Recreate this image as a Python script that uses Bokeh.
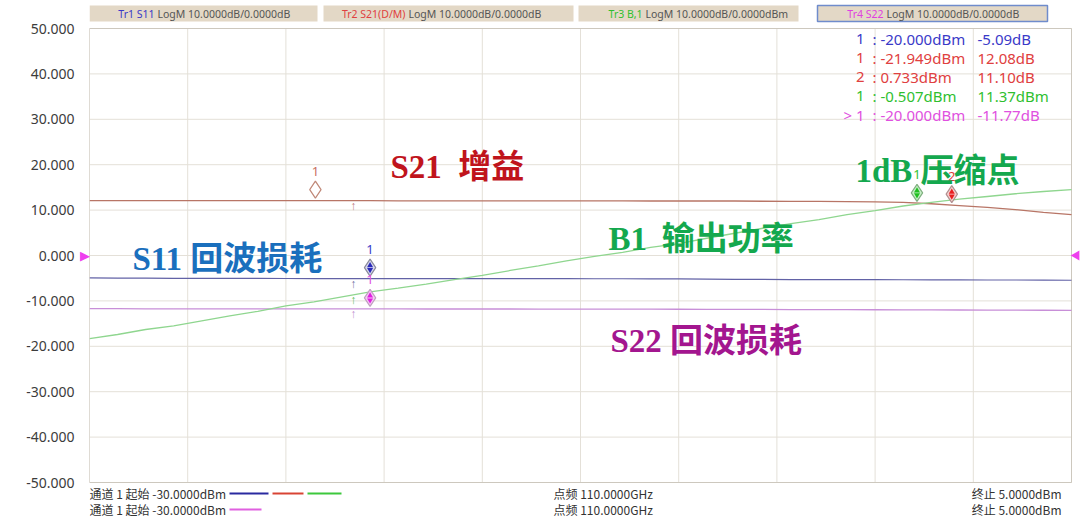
from bokeh.plotting import figure
from bokeh.models import Label, FixedTicker, PrintfTickFormatter, LinearAxis
from bokeh.embed import file_html
from bokeh.resources import INLINE

# ---------------- data ----------------
power_in = [-30, -29, -28, -27, -26, -25, -24, -23, -22, -21, -20, -19, -18, -17, -16, -15, -14, -13,
            -12, -11, -10, -9, -8, -7, -6, -5, -4, -3, -2, -1, 0, 1, 2, 3, 4, 5]
s11 = [-4.95, -4.98, -5.0, -5.02, -5.05, -5.05, -5.06, -5.07, -5.08, -5.08, -5.09, -5.09, -5.1, -5.1,
       -5.1, -5.1, -5.1, -5.1, -5.12, -5.12, -5.14, -5.15, -5.2, -5.25, -5.28, -5.3, -5.3, -5.32,
       -5.33, -5.34, -5.36, -5.38, -5.4, -5.4, -5.42, -5.45]
s21 = [12.1, 12.1, 12.1, 12.1, 12.1, 12.1, 12.1, 12.1, 12.08, 12.08, 12.08, 12.05, 12.05, 12.05,
       12.05, 12.05, 12.05, 12.05, 12.05, 12.05, 12.0, 12.0, 12.0, 12.0, 11.95, 11.9, 11.9, 11.85,
       11.8, 11.7, 11.4, 11.0, 10.6, 10.1, 9.5, 9.0]
b1 = [-18.3, -17.4, -16.3, -15.5, -14.4, -13.3, -12.3, -11.1, -10.2, -9.1, -8.0, -7.2, -6.3, -5.3,
      -4.4, -3.3, -2.3, -1.2, -0.2, 0.7, 1.8, 2.6, 3.8, 4.9, 6.0, 7.0, 7.9, 9.0, 9.9, 10.9, 11.7,
      12.4, 13.0, 13.6, 14.1, 14.5]
s22 = [-11.7, -11.72, -11.74, -11.75, -11.75, -11.76, -11.76, -11.77, -11.77, -11.77, -11.77,
       -11.77, -11.78, -11.78, -11.78, -11.78, -11.8, -11.8, -11.8, -11.82, -11.82, -11.84, -11.85,
       -11.86, -11.88, -11.9, -11.92, -11.94, -11.95, -11.96, -11.98, -12.0, -12.02, -12.04,
       -12.06, -12.1]

y_ticks = [-50, -40, -30, -20, -10, 0, 10, 20, 30, 40, 50]
x_grid = [-30, -26.5, -23, -19.5, -16, -12.5, -9, -5.5, -2, 1.5, 5]
ref_level = 0

marker_ids = ["1", "1", "2", "1", "1"]
marker_x = [-20.0, -21.949, 0.733, -0.507, -20.0]
marker_val = [-5.09, 12.08, 11.10, 11.37, -11.77]
marker_unit = ["dB", "dB", "dB", "dBm", "dB"]
marker_prefix = ["", "", "", "", "> "]
stim_x = -20.6

tabs = [("Tr1 S11", "LogM 10.0000dB/0.0000dB"),
        ("Tr2 S21(D/M)", "LogM 10.0000dB/0.0000dB"),
        ("Tr3 B,1", "LogM 10.0000dB/0.0000dBm"),
        ("Tr4 S22", "LogM 10.0000dB/0.0000dB")]
footer_left = "通道 1 起始 -30.0000dBm"
footer_mid = "点频 110.0000GHz"
footer_right = "终止 5.0000dBm"

# ---------------- styles / geometry ----------------
C_S11, C_S21, C_B1, C_S22 = "#6262a6", "#b87566", "#8fd68f", "#c88fd8"
C_T = ["#3a3ac8", "#e04040", "#e04040", "#2fbf2f", "#e050e0"]
TAB_COL = ["#3a3ac8", "#e04040", "#2fbf2f", "#e040e0"]

X0, X1, Y0, Y1 = -30, 5, -50, 50
FL, FR, FT, FB = 89, 1071, 28, 482   # data area in picture pixels
W, H = 1080, 521


def wx(px):
    return X0 + (px - FL) * (X1 - X0) / (FR - FL)


def wy(py):
    return Y1 - (py - FT) * (Y1 - Y0) / (FB - FT)


DY = (Y1 - Y0) / (FB - FT)

p = figure(width=W, height=H, x_range=(X0, wx(W)), y_range=(wy(H), wy(0)),
           output_backend="svg", toolbar_location=None,
           min_border_left=FL, min_border_right=0, min_border_top=0, min_border_bottom=0)
p.xaxis.visible = False
p.xgrid.visible = False
p.ygrid.visible = False
main_ax = p.yaxis[0]
main_ax.ticker = FixedTicker(ticks=y_ticks)
main_ax.bounds = (Y0, Y1)
main_ax.formatter = PrintfTickFormatter(format="%.3f")
main_ax.axis_line_color = None
main_ax.major_tick_line_color = None
main_ax.minor_tick_line_color = None
main_ax.major_label_standoff = -4
main_ax.major_label_text_font = "Noto Sans"
main_ax.major_label_text_font_size = "14px"
main_ax.major_label_text_color = "#3c3c3c"

# reference-level pointer on the left, as a one-tick axis next to the frame
tri_ax = LinearAxis(ticker=FixedTicker(ticks=[ref_level]), major_label_overrides={ref_level: "▶"},
                    axis_line_color=None, major_tick_line_color=None, minor_tick_line_color=None,
                    major_label_standoff=-6, major_label_text_color="#ee40ee",
                    major_label_text_font_size="13px")
p.left = [tri_ax, main_ax]

p.outline_line_color = None
p.background_fill_color = "white"
p.border_fill_color = "white"

# grid + frame of the data area
p.segment(x0=x_grid, x1=x_grid, y0=[Y0] * len(x_grid), y1=[Y1] * len(x_grid),
          line_color="#e4e0d8", line_width=1)
p.segment(x0=[X0] * len(y_ticks), x1=[X1] * len(y_ticks), y0=y_ticks, y1=y_ticks,
          line_color="#e4e0d8", line_width=1)
p.quad(left=[X0], right=[X1], bottom=[Y0], top=[Y1], fill_color=None,
       line_color="#cdc8be", line_width=1)

# traces
p.line(power_in, s21, line_color=C_S21, line_width=1.3)
p.line(power_in, s11, line_color=C_S11, line_width=1.2)
p.line(power_in, s22, line_color=C_S22, line_width=1.3)
p.line(power_in, b1, line_color=C_B1, line_width=1.3)


def interp(xv, xs, ys):
    for i in range(len(xs) - 1):
        if xs[i] <= xv <= xs[i + 1]:
            t = (xv - xs[i]) / (xs[i + 1] - xs[i])
            return ys[i] + t * (ys[i + 1] - ys[i])
    return ys[-1]


# stimulus arrows
for ys, col in [(s21, "#c07c7c"), (s11, "#7070a0"), (b1, "#5cc05c"), (s22, "#c090d0")]:
    p.add_layout(Label(x=stim_x, y=interp(stim_x, power_in, ys) - 5 * DY, text="↑",
                       text_align="center", text_baseline="middle", text_font_size="12px",
                       text_color=col))

# markers
off = 11 * DY
mk_fill = ["#d8d8f0", "white", "#f6d0d0", "#c8f0c8", "#f6c8f6"]
mk_dark = ["#2a2ab8", None, "#e82020", "#20c020", "#e020e0"]
mk_line = ["#8a8a9a", "#c08878", "#b09090", "#80b080", "#c0a0c0"]
order = [4, 0, 1, 3, 2]
for i in order:
    mx, my = marker_x[i], marker_val[i] + off
    p.scatter([mx], [my], marker="diamond", size=17, fill_color=mk_fill[i],
              line_color=mk_line[i], line_width=1.2)
    if mk_dark[i]:
        p.scatter([mx], [my + 2.2 * DY], marker="triangle", size=6, fill_color=mk_dark[i],
                  line_color=None)
        p.scatter([mx], [my - 2.2 * DY], marker="inverted_triangle", size=6,
                  fill_color=mk_dark[i], line_color=None)
    lab_col = "#c87060" if mk_dark[i] is None else C_T[i]
    p.add_layout(Label(x=mx, y=my + 18 * DY, text=marker_ids[i], text_align="center",
                       text_baseline="middle", text_font="Noto Sans", text_font_size="13px",
                       text_color=lab_col))

# big annotations
NB = "\u00a0"
ANN_FONT = "'Liberation Serif', 'Noto Sans CJK SC'"
for txt, px, py, col in [("S21" + NB + NB + "增益", 390, 166, "#c0141c"),
                         ("S11" + NB + "回波损耗", 132, 258, "#1a6fbd"),
                         ("B1" + NB + "\u2009输出功率", 608, 238, "#14a84e"),
                         ("1dB" + NB + "压缩点", 855, 170, "#14a84e"),
                         ("S22" + NB + "回波损耗", 610, 340, "#a3168f")]:
    p.add_layout(Label(x=wx(px), y=wy(py), text=txt, text_align="left", text_baseline="middle",
                       text_font=ANN_FONT, text_font_style="bold", text_font_size="33px",
                       text_color=col))

# marker table
rows_y = [38, 57, 76, 95, 114]
TF = "15px"
for i in range(5):
    yy = wy(rows_y[i])
    p.add_layout(Label(x=wx(864), y=yy, text=marker_prefix[i] + marker_ids[i], text_align="right",
                       text_baseline="middle", text_font="Noto Sans", text_font_size=TF,
                       text_color=C_T[i]))
    p.add_layout(Label(x=wx(872), y=yy, text=":" + NB + f"{marker_x[i]:.3f}dBm", text_align="left",
                       text_baseline="middle", text_font="Noto Sans", text_font_size=TF,
                       text_color=C_T[i]))
    p.add_layout(Label(x=wx(977), y=yy, text=f"{marker_val[i]:.2f}{marker_unit[i]}",
                       text_align="left", text_baseline="middle", text_font="Noto Sans",
                       text_font_size=TF, text_color=C_T[i]))

# reference level triangle (right side)
p.scatter([wx(1076)], [ref_level], marker="triangle", angle=1.5708, size=10, fill_color="#ee40ee",
          line_color=None)

# header tabs
tab_px = [(89, 317), (323, 573), (578, 798), (817, 1047)]
tab_split = [154, 405, 642, 883]
for k, ((a, b), (c_txt, g_txt)) in enumerate(zip(tab_px, tabs)):
    p.quad(left=[wx(a)], right=[wx(b)], top=[wy(5)], bottom=[wy(21)], fill_color="#e3d8c6",
           line_color="#6f8ccc" if k == 3 else None, line_width=1.5)
    p.add_layout(Label(x=wx(tab_split[k]), y=wy(13), text=c_txt, text_align="right",
                       text_baseline="middle", text_font="Noto Sans", text_font_size="10.5px",
                       text_color=TAB_COL[k]))
    p.add_layout(Label(x=wx(tab_split[k] + 3), y=wy(13), text=g_txt, text_align="left",
                       text_baseline="middle", text_font="Noto Sans", text_font_size="10.5px",
                       text_color="#555555"))

# footer
FOOT = "'Noto Sans CJK SC'"
for py in (493, 509):
    p.add_layout(Label(x=wx(89), y=wy(py), text=footer_left, text_align="left",
                       text_baseline="middle", text_font=FOOT, text_font_size="12px",
                       text_color="#333333"))
    p.add_layout(Label(x=wx(553), y=wy(py), text=footer_mid, text_align="left",
                       text_baseline="middle", text_font=FOOT, text_font_size="12px",
                       text_color="#333333"))
    p.add_layout(Label(x=wx(1061), y=wy(py), text=footer_right, text_align="right",
                       text_baseline="middle", text_font=FOOT, text_font_size="12px",
                       text_color="#333333"))
for a, b, py, col in [(229, 268, 493, "#2a2aa0"), (272, 303, 493, "#d84434"),
                      (307, 341, 493, "#3cc83c"), (229, 261, 509, "#e060e0")]:
    p.segment(x0=[wx(a)], x1=[wx(b)], y0=[wy(py)], y1=[wy(py)], line_color=col, line_width=2)

open("out.html", "w").write(file_html(p, INLINE))
